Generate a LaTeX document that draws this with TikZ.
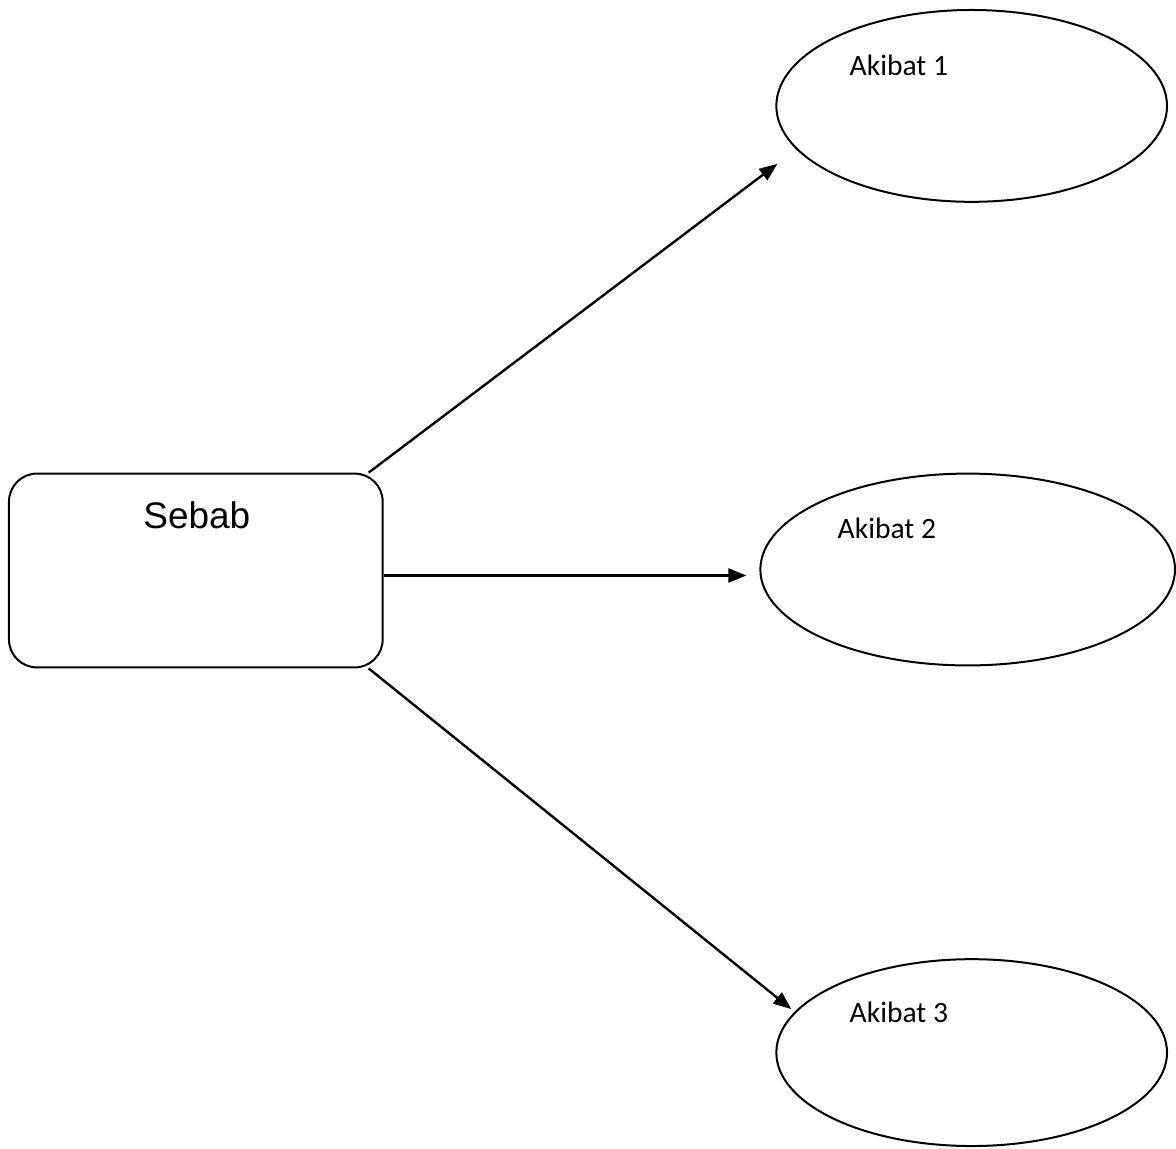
\documentclass[tikz,border=0pt]{standalone}
\usepackage{fontspec}
\setmainfont{Liberation Sans}
\newfontfamily\bodyfont{Carlito}
\usetikzlibrary{shapes.geometric, arrows.meta}

\begin{document}
\begin{tikzpicture}[x=0.5pt, y=-0.5pt,
		causebox/.style={draw, line width=1pt, rounded corners=14pt,
			minimum width=187pt, minimum height=97pt, inner sep=0pt},
		effect/.style={draw, ellipse, line width=1pt, inner sep=0pt},
		effectlabel/.style={anchor=base west, inner sep=0pt,
			font=\bodyfont\fontsize{14.8}{17}\selectfont},
		arrow/.style={-{Triangle[length=9pt, width=7pt]}, line width=1.2pt}]
	\fill[white] (0,0) rectangle (1176,1149);
	% cause
	\node[causebox] (sebab) at (196,571) {};
	\node[anchor=base, inner sep=0pt, font=\fontsize{18.5}{22}\selectfont] (sebabtext) at (197,529) {Sebab};
	% effects
	\node[effect, minimum width=195.5pt, minimum height=96pt] (akibat1) at (972.5,106) {};
	\node[effect, minimum width=207.5pt, minimum height=96pt] (akibat2) at (968.5,570) {};
	\node[effect, minimum width=195.5pt, minimum height=93.5pt] (akibat3) at (972.5,1053.5) {};
	\node[effectlabel] (label1) at (850,76) {Akibat 1};
	\node[effectlabel] (label2) at (838,539) {Akibat 2};
	\node[effectlabel] (label3) at (850,1023) {Akibat 3};
	% arrow tips
	\coordinate (tip1) at (778,164);
	\coordinate (tip2) at (747,576);
	\coordinate (tip3) at (792,1010);
	\draw[arrow] ([xshift=-7.5pt]sebab.north east) -- (tip1);
	\draw[arrow] ([yshift=-2.5pt]sebab.east) -- (tip2);
	\draw[arrow] ([xshift=-7.5pt]sebab.south east) -- (tip3);
\end{tikzpicture}
\end{document}
